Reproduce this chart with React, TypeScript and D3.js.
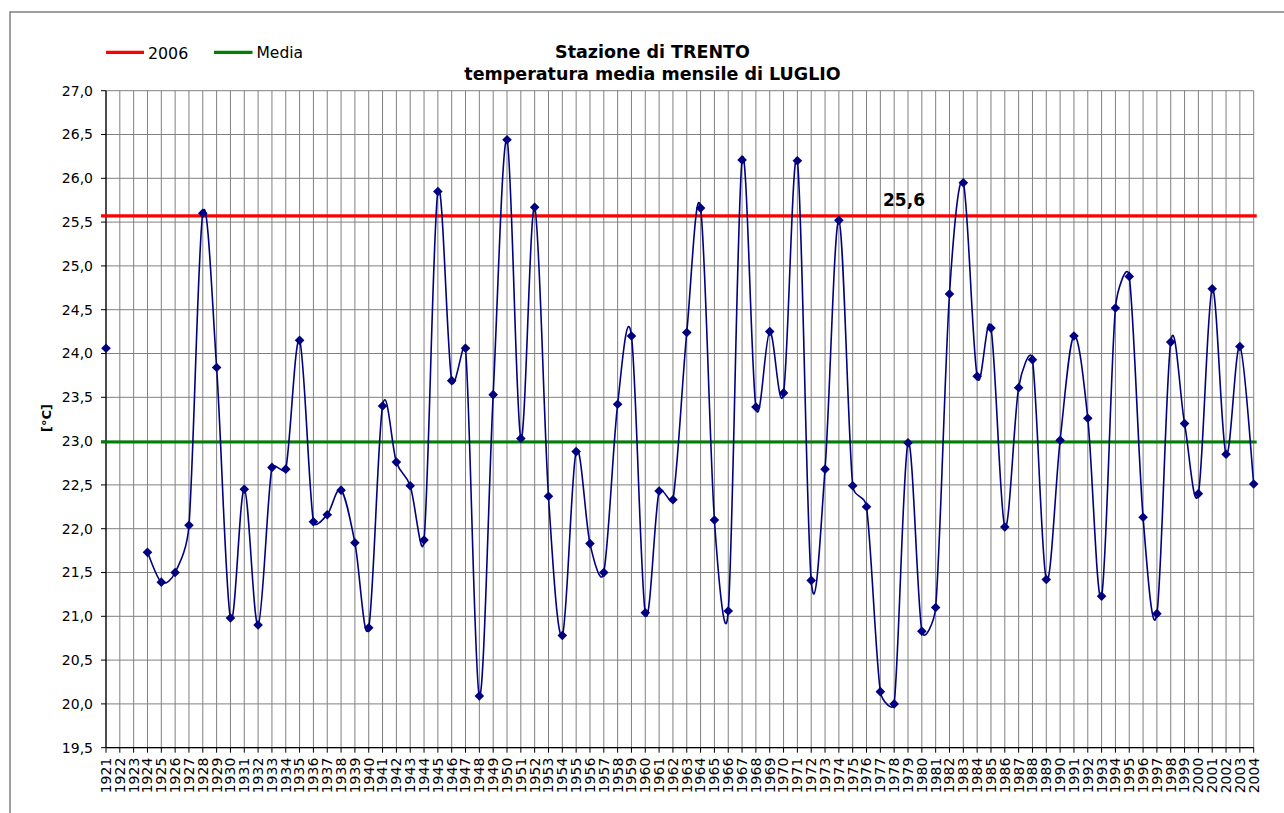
import React from "react";
import * as d3 from "d3";

const years: number[] = d3.range(1921, 2005);
const temps: (number | null)[] = [
  24.06, null, null, 21.73, 21.39, 21.5, 22.04, 25.6, 23.84, 20.98,
  22.45, 20.9, 22.7, 22.68, 24.15, 22.08, 22.16, 22.44, 21.84, 20.87,
  23.4, 22.76, 22.49, 21.87, 25.85, 23.69, 24.06, 20.09, 23.53, 26.44,
  23.03, 25.67, 22.37, 20.78, 22.88, 21.83, 21.5, 23.42, 24.2, 21.04,
  22.43, 22.33, 24.24, 25.66, 22.1, 21.06, 26.21, 23.39, 24.25, 23.55,
  26.2, 21.41, 22.68, 25.52, 22.49, 22.25, 20.14, 20.0, 22.98, 20.83,
  21.1, 24.68, 25.95, 23.74, 24.29, 22.02, 23.61, 23.93, 21.42, 23.01,
  24.2, 23.26, 21.23, 24.52, 24.88, 22.13, 21.03, 24.13, 23.2, 22.4,
  24.74, 22.85, 24.08, 22.51,
];
const value2006 = 25.57;
const valueMedia = 22.99;
const label2006 = "25,6";
const yTicks: number[] = d3.range(19.5, 27.01, 0.5);
const titleLines = ["Stazione di TRENTO", "temperatura media mensile di LUGLIO"];
const legendNames = ["2006", "Media"];

const W = 1284;
const H = 813;
const L = 106, R = 1253.7, T = 90.7, B = 747.7;
const FONT = "'DejaVu Sans', Verdana, sans-serif";

type P = [number, number];

// Excel-like smoothed line: Bezier with tangent (P[i+1]-P[i-1])/6, arm capped at half segment
function smoothPath(runs: P[][]): string {
  const path = d3.path();
  for (const pts of runs) {
    if (pts.length === 0) continue;
    path.moveTo(pts[0][0], pts[0][1]);
    for (let i = 0; i < pts.length - 1; i++) {
      const p0 = pts[Math.max(0, i - 1)];
      const p1 = pts[i];
      const p2 = pts[i + 1];
      const p3 = pts[Math.min(pts.length - 1, i + 2)];
      const seg = Math.hypot(p2[0] - p1[0], p2[1] - p1[1]);
      let a: P = [(p2[0] - p0[0]) / 6, (p2[1] - p0[1]) / 6];
      let b: P = [(p3[0] - p1[0]) / 6, (p3[1] - p1[1]) / 6];
      const la = Math.hypot(a[0], a[1]);
      const lb = Math.hypot(b[0], b[1]);
      if (la > seg / 2 && la > 0) a = [(a[0] * seg) / 2 / la, (a[1] * seg) / 2 / la];
      if (lb > seg / 2 && lb > 0) b = [(b[0] * seg) / 2 / lb, (b[1] * seg) / 2 / lb];
      path.bezierCurveTo(p1[0] + a[0], p1[1] + a[1], p2[0] - b[0], p2[1] - b[1], p2[0], p2[1]);
    }
  }
  return path.toString();
}

export default function App() {
  const x = d3.scalePoint<number>().domain(years).range([L, R]);
  const y = d3.scaleLinear().domain([19.5, 27]).range([B, T]);
  const fmt = (v: number) => d3.format(".1f")(v).replace(".", ",");

  const pts = years.map((yr, i) => ({ yr, v: temps[i] }));
  const runs: P[][] = [];
  let cur: P[] = [];
  pts.forEach((d) => {
    if (d.v == null) {
      if (cur.length) runs.push(cur);
      cur = [];
    } else {
      cur.push([x(d.yr) as number, y(d.v)]);
    }
  });
  if (cur.length) runs.push(cur);

  const diamond = (cx: number, cy: number, r: number) =>
    `M${cx},${cy - r}L${cx + r},${cy}L${cx},${cy + r}L${cx - r},${cy}Z`;

  return (
    <svg
      width={W}
      height={H}
      style={{ position: "absolute", left: 0, top: 0, background: "#fff" }}
      fontFamily={FONT}
    >
      <rect x={0} y={0} width={W} height={H} fill="#fff" />
      {/* chart frame */}
      <path d={`M10,${H}L10,12L${W},12`} fill="none" stroke="#808080" strokeWidth={1.5} />

      {/* horizontal gridlines */}
      {yTicks.map((t) => (
        <line key={"h" + t} x1={L} x2={R} y1={y(t)} y2={y(t)} stroke="#808080" strokeWidth={1} />
      ))}
      {/* vertical gridlines */}
      {years.map((yr) => (
        <line key={"v" + yr} x1={x(yr)} x2={x(yr)} y1={T} y2={B} stroke="#808080" strokeWidth={1} />
      ))}

      {/* axes */}
      <line x1={L} x2={L} y1={T} y2={B} stroke="#000" strokeWidth={1.2} />
      <line x1={L} x2={R} y1={B} y2={B} stroke="#000" strokeWidth={1.2} />
      {yTicks.map((t) => (
        <g key={"yt" + t}>
          <line x1={L - 5} x2={L} y1={y(t)} y2={y(t)} stroke="#000" />
          <text x={93} y={y(t)} dy="0.35em" textAnchor="end" fontSize={14} fill="#000">
            {fmt(t)}
          </text>
        </g>
      ))}
      {years.map((yr) => (
        <g key={"xt" + yr}>
          <line x1={x(yr)} x2={x(yr)} y1={B} y2={B + 5} stroke="#000" />
          <text
            transform={`translate(${x(yr)},${B + 10}) rotate(-90)`}
            textAnchor="end"
            dy="0.35em"
            fontSize={14}
            fill="#000"
          >
            {yr}
          </text>
        </g>
      ))}

      {/* y axis title */}
      <text
        transform={`translate(46.5,418) rotate(-90)`}
        textAnchor="middle"
        dy="0.35em"
        fontSize={13}
        fontWeight="bold"
      >
        [°C]
      </text>

      {/* reference lines */}
      <line x1={L - 5} x2={R + 3} y1={y(value2006)} y2={y(value2006)} stroke="#ff0000" strokeWidth={3.2} />
      <line x1={L - 5} x2={R + 3} y1={y(valueMedia)} y2={y(valueMedia)} stroke="#008000" strokeWidth={3.2} />

      {/* data series */}
      <path d={smoothPath(runs)} fill="none" stroke="#000080" strokeWidth={1.6} />
      {pts
        .filter((d) => d.v != null)
        .map((d) => (
          <path key={"m" + d.yr} d={diamond(x(d.yr) as number, y(d.v as number), 4.8)} fill="#000080" />
        ))}

      {/* data label */}
      <text x={904} y={206} textAnchor="middle" fontSize={17} fontWeight="bold">
        {label2006}
      </text>

      {/* title */}
      <text x={652.5} y={51.7} dy="0.35em" textAnchor="middle" fontSize={17.5} fontWeight="bold">
        {titleLines[0]}
      </text>
      <text x={652.5} y={74} dy="0.35em" textAnchor="middle" fontSize={17.5} fontWeight="bold">
        {titleLines[1]}
      </text>

      {/* legend */}
      <line x1={106} x2={144} y1={52.3} y2={52.3} stroke="#ff0000" strokeWidth={3.2} />
      <text x={148} y={53} dy="0.35em" fontSize={15.8}>
        {legendNames[0]}
      </text>
      <line x1={214} x2={252.5} y1={52.3} y2={52.3} stroke="#008000" strokeWidth={3.2} />
      <text x={256.5} y={53} dy="0.35em" fontSize={15.5}>
        {legendNames[1]}
      </text>
    </svg>
  );
}
